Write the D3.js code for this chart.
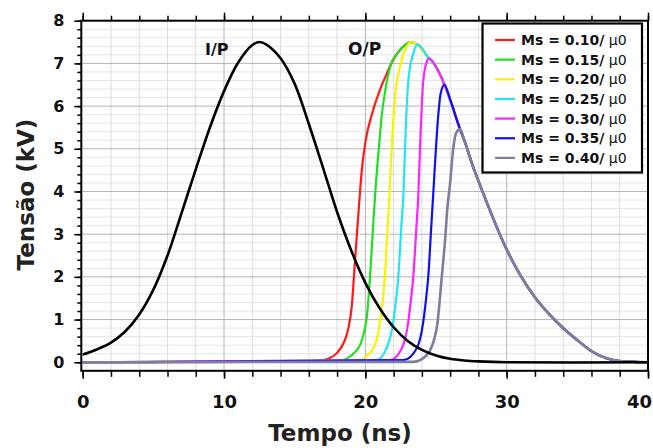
<!DOCTYPE html>
<html><head><meta charset="utf-8">
<script src="https://cdn.jsdelivr.net/npm/d3@7"></script>
<style>
body{margin:0;background:#fff}
svg{display:block}
</style>
</head><body>
<svg id="chart" width="653" height="448"></svg>
<script>
// ---- data -------------------------------------------------------------
const xTickValues = [0, 10, 20, 30, 40];
const yTickValues = [0, 1, 2, 3, 4, 5, 6, 7, 8];

// input pulse (I/P)
const inputT = [0, 1, 2, 3, 4, 5, 6, 7, 8, 9, 10, 11, 12, 12.5, 13, 14, 15, 16, 17, 18, 19, 20, 21, 22, 23, 24, 25, 26, 27, 28, 30, 40];
const inputV = [0.18, 0.3, 0.46, 0.72, 1.12, 1.7, 2.5, 3.5, 4.52, 5.5, 6.35, 7.02, 7.43, 7.5, 7.44, 7.12, 6.52, 5.58, 4.56, 3.52, 2.62, 1.86, 1.27, 0.82, 0.5, 0.29, 0.16, 0.08, 0.04, 0.02, 0, 0];

// common upper envelope shared by the output pulses after they saturate
const envelopeT = [21.8, 22.3, 22.8, 23.2, 23.7, 24.5, 25, 25.6, 26, 26.7, 27, 27.6, 28, 28.8, 29.9, 31, 32, 33, 34, 35, 36, 37, 38, 39, 40];
const envelopeV = [6.97, 7.25, 7.43, 7.5, 7.44, 7.12, 6.92, 6.5, 6.15, 5.46, 5.2, 4.6, 4.25, 3.57, 2.71, 2.02, 1.52, 1.13, 0.8, 0.52, 0.26, 0.1, 0.03, 0.01, 0];

// leading edge of each output pulse (O/P)
const rise010T = [0, 16, 17, 17.5, 18, 18.5, 18.8, 19.05, 19.25, 19.5, 19.75, 20, 20.5, 21, 21.5];
const rise010V = [0, 0.01, 0.05, 0.1, 0.22, 0.48, 0.8, 1.35, 2.3, 3.45, 4.5, 5.15, 5.85, 6.35, 6.75];
const rise015T = [0, 18, 18.7, 19.3, 19.65, 19.9, 20.1, 20.33, 20.55, 20.75, 20.95, 21.15, 21.4];
const rise015V = [0, 0.02, 0.09, 0.25, 0.42, 0.7, 1.05, 2.0, 3.2, 4.2, 5.0, 5.75, 6.35];
const rise020T = [0, 19.6, 20.2, 20.57, 20.85, 21.04, 21.25, 21.4, 21.55, 21.7, 21.87, 22.1, 22.45, 22.9];
const rise020V = [0, 0.05, 0.18, 0.33, 0.6, 0.95, 1.5, 2.12, 3.0, 3.9, 5.05, 6.2, 6.92, 7.38];
const rise025T = [0, 20.8, 21.5, 21.98, 22.15, 22.34, 22.55, 22.69, 22.81, 23.04, 23.4];
const rise025V = [0, 0.05, 0.33, 0.95, 1.4, 2.04, 3.2, 3.92, 5.05, 6.6, 7.24];
const rise030T = [0, 21.75, 22.58, 23.04, 23.2, 23.4, 23.6, 23.75, 23.9, 24.1, 24.35];
const rise030V = [0, 0.05, 0.33, 0.95, 1.4, 2.04, 3.1, 3.92, 5.3, 6.6, 7.04];
const rise035T = [0, 22.69, 23.64, 24.1, 24.3, 24.46, 24.65, 24.8, 24.93, 25.17, 25.33];
const rise035V = [0, 0.05, 0.33, 0.95, 1.5, 2.04, 3.1, 3.92, 4.66, 5.83, 6.3];
const rise040T = [0, 23.4, 24.35, 25.05, 25.4, 25.65, 25.8, 26.0, 26.2, 26.4];
const rise040V = [0, 0.01, 0.17, 0.8, 1.97, 2.9, 3.6, 4.2, 4.95, 5.35];

const seriesNames = ["0.10", "0.15", "0.20", "0.25", "0.30", "0.35", "0.40"];
const seriesColors = ["#ff1a1a", "#22dd22", "#f8f400", "#22e4f2", "#ff22ff", "#1010ee", "#7e7e9e"];
const riseTs = [rise010T, rise015T, rise020T, rise025T, rise030T, rise035T, rise040T];
const riseVs = [rise010V, rise015V, rise020V, rise025V, rise030V, rise035V, rise040V];

// ---- layout -----------------------------------------------------------
const svg = d3.select("#chart");
const x = d3.scaleLinear().domain([-0.1, 40]).range([81.3, 648]);
const y = d3.scaleLinear().domain([-0.2, 8]).range([370.8, 20.7]);
const FONT = "'DejaVu Sans', Verdana, sans-serif";

// grid
const grid = svg.append("g");
const minorY = d3.range(1, 40).map(i => i * 0.2).filter(v => Math.abs(v - Math.round(v)) > 1e-6);
grid.selectAll("line.hmin").data(minorY).join("line")
  .attr("x1", x(-0.1)).attr("x2", x(40))
  .attr("y1", d => y(d)).attr("y2", d => y(d))
  .attr("stroke", "#e6e6e6").attr("stroke-width", 1);
grid.selectAll("line.vmin").data(d3.range(2, 40, 2)).join("line")
  .attr("y1", y(-0.2)).attr("y2", y(8))
  .attr("x1", d => x(d)).attr("x2", d => x(d))
  .attr("stroke", d => d % 10 === 0 ? "#b4b4b4" : "#dcdcdc").attr("stroke-width", 1);
grid.selectAll("line.hmaj").data(d3.range(1, 8)).join("line")
  .attr("x1", x(-0.1)).attr("x2", x(40))
  .attr("y1", d => y(d)).attr("y2", d => y(d))
  .attr("stroke", "#b4b4b4").attr("stroke-width", 1);

// curves
const outLine = d3.line().x(d => x(d[0])).y(d => y(d[1])).curve(d3.curveMonotoneX);
const inLine = d3.line().x(d => x(d[0])).y(d => y(d[1])).curve(d3.curveCatmullRom.alpha(0.5));
const curves = svg.append("g").attr("fill", "none").attr("stroke-linejoin", "round");
seriesNames.forEach((name, i) => {
  const pts = riseTs[i].map((t, j) => [t, riseVs[i][j]]);
  const last = riseTs[i][riseTs[i].length - 1];
  envelopeT.forEach((t, j) => { if (t > last) pts.push([t, envelopeV[j]]); });
  curves.append("path").attr("d", outLine(pts))
    .attr("stroke", seriesColors[i]).attr("stroke-width", i === 6 ? 2.6 : 2.2);
});
curves.append("path")
  .attr("d", inLine(inputT.map((t, j) => [t, inputV[j]])))
  .attr("stroke", "#000").attr("stroke-width", 2.6);

// axes
function styleAxis(g) {
  g.select(".domain").remove();
  g.selectAll(".tick line").attr("stroke", "#000").attr("stroke-width", 1.5);
  g.selectAll("text").attr("font-family", FONT).attr("font-weight", "bold").attr("fill", "#111");
}
const minorX = d3.range(0, 41, 2);
svg.append("g").attr("transform", `translate(0,${y(-0.2)})`)
  .call(d3.axisBottom(x).tickValues(minorX).tickSize(6).tickFormat(""))
  .call(styleAxis);
const xLabels = svg.append("g").attr("transform", `translate(0,${y(-0.2)})`)
  .call(d3.axisBottom(x).tickValues(xTickValues).tickSize(8).tickPadding(16).tickFormat(d3.format("d")))
  .call(styleAxis);
xLabels.selectAll("text").attr("font-size", 18)
  .attr("dx", d => d === 40 ? -9 : 0);
svg.append("g").attr("transform", `translate(0,${y(8)})`)
  .call(d3.axisTop(x).tickValues(minorX).tickSize(5).tickFormat(""))
  .call(styleAxis);
svg.append("g").attr("transform", `translate(0,${y(8)})`)
  .call(d3.axisTop(x).tickValues(xTickValues).tickSize(8).tickFormat(""))
  .call(styleAxis);
svg.append("g").attr("transform", `translate(${x(-0.1)},0)`)
  .call(d3.axisLeft(y).tickValues(d3.range(0, 41).map(i => i * 0.2)).tickSize(4).tickFormat(""))
  .call(styleAxis);
svg.append("g").attr("transform", `translate(${x(-0.1)},0)`)
  .call(d3.axisLeft(y).tickValues(yTickValues).tickSize(7).tickPadding(10).tickFormat(d3.format("d")))
  .call(styleAxis)
  .selectAll("text").attr("font-size", 16);

// frame
svg.append("rect")
  .attr("x", x(-0.1)).attr("y", y(8))
  .attr("width", x(40) - x(-0.1)).attr("height", y(-0.2) - y(8))
  .attr("fill", "none").attr("stroke", "#000").attr("stroke-width", 2);

// axis titles
svg.append("text").attr("x", 340).attr("y", 440.5)
  .attr("text-anchor", "middle").attr("font-family", FONT).attr("font-weight", "bold")
  .attr("font-size", 23).attr("fill", "#222").text("Tempo (ns)");
svg.append("text").attr("transform", "translate(33.5,194.5) rotate(-90)")
  .attr("text-anchor", "middle").attr("font-family", FONT).attr("font-weight", "bold")
  .attr("font-size", 23).attr("fill", "#222").text("Tensão (kV)");

// curve annotations
svg.append("text").attr("x", 205).attr("y", 55)
  .attr("font-family", FONT).attr("font-weight", "bold").attr("font-size", 16)
  .attr("fill", "#111").text("I/P");
svg.append("text").attr("x", 348).attr("y", 55)
  .attr("font-family", FONT).attr("font-weight", "bold").attr("font-size", 17)
  .attr("fill", "#111").text("O/P");

// legend
const legend = svg.append("g");
legend.append("rect").attr("x", 482.5).attr("y", 23.5).attr("width", 159.5).attr("height", 149)
  .attr("fill", "#fff").attr("stroke", "#000").attr("stroke-width", 2.2);
seriesNames.forEach((name, i) => {
  const cy = 40 + i * 19.65;
  legend.append("line").attr("x1", 495).attr("x2", 515).attr("y1", cy).attr("y2", cy)
    .attr("stroke", seriesColors[i]).attr("stroke-width", 2.2);
  const t = legend.append("text").attr("x", 521).attr("y", cy + 5)
    .attr("font-family", FONT).attr("font-size", 14).attr("fill", "#111");
  t.append("tspan").attr("font-weight", "bold").text(`Ms = ${name}/`);
  t.append("tspan").attr("font-weight", "normal").text(" \u03bc0");
});
</script>
</body></html>
